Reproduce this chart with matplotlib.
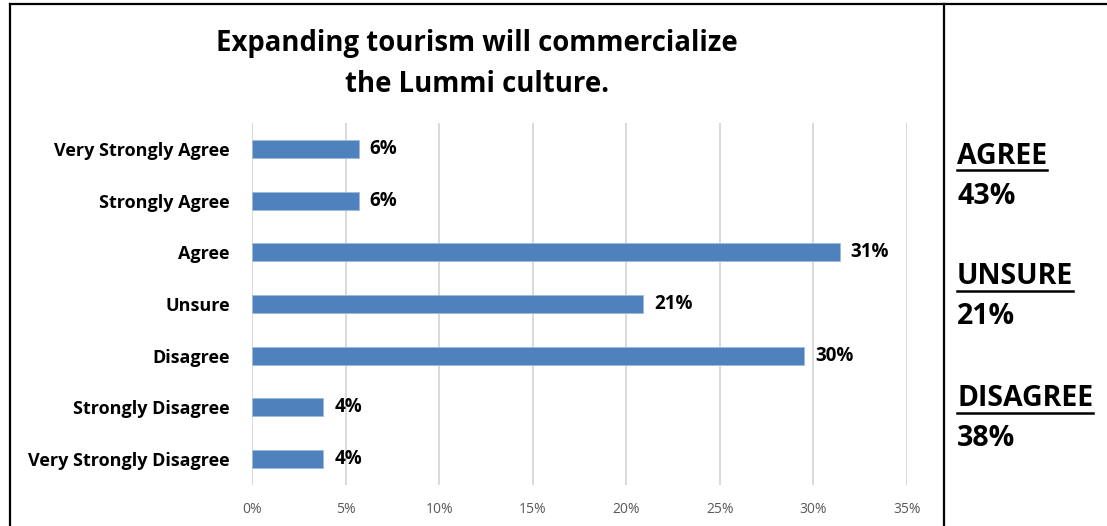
import matplotlib
matplotlib.use("Agg")
import matplotlib.pyplot as plt
from matplotlib.lines import Line2D
from matplotlib.ticker import FuncFormatter

plt.rcParams['font.family'] = ['Open Sans', 'DejaVu Sans']

# survey responses (percent of respondents)
responses = ['Very Strongly Agree', 'Strongly Agree', 'Agree', 'Unsure',
             'Disagree', 'Strongly Disagree', 'Very Strongly Disagree']
shares = [5.7, 5.7, 31.4, 20.9, 29.5, 3.8, 3.8]

# grouped totals shown on the side
groups = ['AGREE', 'UNSURE', 'DISAGREE']
group_totals = [43, 21, 38]

W, H = 1107, 526
fig = plt.figure(figsize=(W / 100, H / 100), dpi=100)

ax = fig.add_axes([252 / W, 1 - 485 / H, 655 / W, 362 / H])
y_pos = range(len(responses))
bars = ax.barh(y_pos, shares, height=0.35, color='#4f81bd',
               edgecolor='#9dbbe0', linewidth=0.6, zorder=3)
ax.set_ylim(len(responses) - 0.5, -0.5)
ax.set_xlim(0, 35)
ax.set_xticks(range(0, 36, 5))
ax.xaxis.set_major_formatter(FuncFormatter(lambda v, p: f'{v:.0f}%'))
ax.set_yticks(list(y_pos))
ax.set_yticklabels(responses, fontsize=13, fontweight='bold')
ax.tick_params(axis='x', length=0, labelsize=10, labelcolor='#595959', pad=12)
ax.tick_params(axis='y', length=0, pad=16)
ax.grid(axis='x', color='#d9d9d9', linewidth=1.4, zorder=0)
for s in ax.spines.values():
    s.set_visible(False)

for bar, v in zip(bars, shares):
    ax.annotate(f'{v:.0f}%', (bar.get_width(), bar.get_y() + bar.get_height() / 2),
                xytext=(8, 0), textcoords='offset points', va='center',
                fontsize=13.5, fontweight='bold')

fig.text(477 / W, 1 - 64 / H, 'Expanding tourism will commercialize\nthe Lummi culture.',
         ha='center', va='center', fontsize=19.8, fontweight='bold', linespacing=1.5)

# outer frame and divider
frame = dict(color='black', linewidth=1.6, transform=fig.transFigure)
fig.add_artist(Line2D([10 / W, 10 / W], [0, 1 - 4 / H], **frame))
fig.add_artist(Line2D([10 / W, 1], [1 - 4 / H, 1 - 4 / H], **frame))
fig.add_artist(Line2D([944 / W, 944 / W], [0, 1 - 4 / H], **frame))

# side summary with underlined headings
head_y = [157, 277, 399]
heads = []
for name, total, yy in zip(groups, group_totals, head_y):
    t = fig.text(957 / W, 1 - yy / H, name, ha='left', va='center',
                 fontsize=20.5, fontweight='bold')
    heads.append(t)
    fig.text(957 / W, 1 - (yy + 40) / H, f'{total}%', ha='left', va='center',
             fontsize=20.5, fontweight='bold')

fig.canvas.draw()
r = fig.canvas.get_renderer()
for t in heads:
    bb = t.get_window_extent(r)
    yl = bb.y0 + 1
    fig.add_artist(Line2D([bb.x0 / W, bb.x1 / W], [yl / H, yl / H],
                          color='black', linewidth=1.8, transform=fig.transFigure))

fig.savefig('out.png', dpi=100)
